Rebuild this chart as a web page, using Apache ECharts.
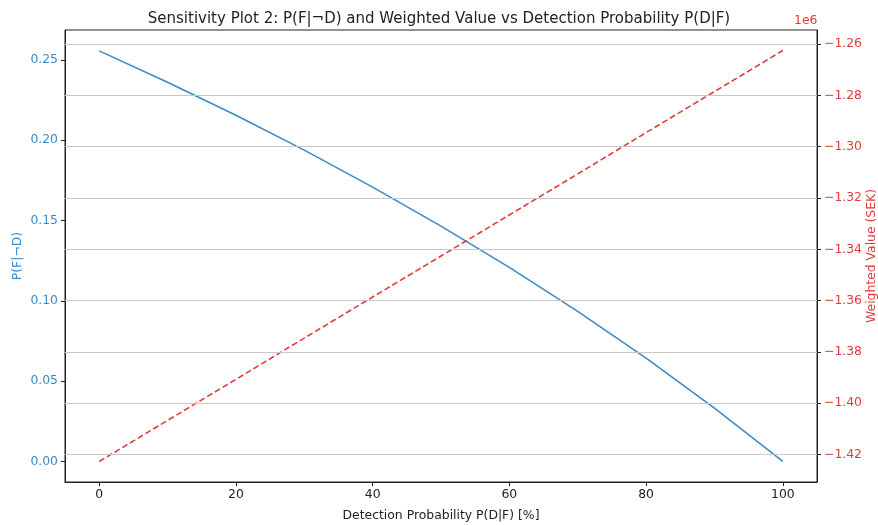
<!DOCTYPE html>
<html><head><meta charset="utf-8">
<script src="https://cdn.jsdelivr.net/npm/echarts@6/dist/echarts.min.js"></script>
<style>html,body{margin:0;padding:0;background:#fff}#c{width:878px;height:525px}</style>
</head><body><div id="c"></div>
<script>
const detection = [0,10,20,30,40,50,60,70,80,90,100];
const pFnotD = [0.2556,0.2361,0.2155,0.1938,0.1708,0.1465,0.1208,0.0934,0.0643,0.0332,0.0];
const weighted = [-1422700,-1406700,-1390700,-1374600,-1358600,-1342600,-1326600,-1310600,-1294500,-1278500,-1262500];
const xTicks = [0,20,40,60,80,100];
const leftTicks = [0,0.05,0.10,0.15,0.20,0.25];
const rightTicks = [-1420000,-1400000,-1380000,-1360000,-1340000,-1320000,-1300000,-1280000,-1260000];

const BLUE = '#3a8bc6', RED = '#e03c3c';
const FONT = 'DejaVu Sans';
const FS = 12.4;
const chart = echarts.init(document.getElementById('c'));
chart.setOption({
  animation:false,
  backgroundColor:'#fff',
  title:{text:'Sensitivity Plot 2: P(F|¬D) and Weighted Value vs Detection Probability P(D|F)',left:'center',top:7,
    textStyle:{fontFamily:FONT,fontSize:15,fontWeight:'normal',color:'#222'}},
  grid:{left:65,right:61,top:30,bottom:43,show:true,borderColor:'#222',borderWidth:1,backgroundColor:'transparent',
    containLabel:false,outerBoundsMode:'none'},
  graphic:[{type:'text',left:794,top:15,style:{text:'1e6',fill:RED,font:FS+'px DejaVu Sans'}}],
  xAxis:{type:'value',min:-5,max:105,
    name:'Detection Probability P(D|F) [%]',nameLocation:'middle',nameGap:28,nameMoveOverlap:false,
    nameTextStyle:{fontFamily:FONT,fontSize:FS,color:'#222'},
    axisLine:{show:true,onZero:false,lineStyle:{color:'#222',width:1}},splitLine:{show:false},
    axisTick:{show:true,length:4,lineStyle:{color:'#222'},customValues:xTicks},
    axisLabel:{customValues:xTicks,fontFamily:FONT,fontSize:FS,color:'#222',margin:7}},
  yAxis:[
    {type:'value',position:'left',min:-0.0128,max:0.2686,
     name:'P(F|¬D)',nameLocation:'middle',nameGap:41,nameRotate:90,nameMoveOverlap:false,
     nameTextStyle:{fontFamily:FONT,fontSize:FS,color:BLUE},
     axisLine:{show:true,onZero:false,lineStyle:{color:'#222',width:1}},splitLine:{show:false},
     axisTick:{show:true,length:4,lineStyle:{color:'#222'},customValues:leftTicks},
     axisLabel:{customValues:leftTicks,fontFamily:FONT,fontSize:FS,color:BLUE,margin:7,formatter:v=>v.toFixed(2)}},
    {type:'value',position:'right',min:-1430700,max:-1254500,
     name:'Weighted Value (SEK)',nameLocation:'middle',nameGap:49,nameRotate:90,nameMoveOverlap:false,
     nameTextStyle:{fontFamily:FONT,fontSize:FS,color:RED},
     axisLine:{show:true,onZero:false,lineStyle:{color:'#222',width:1}},splitLine:{show:false},
     axisTick:{show:true,length:4,lineStyle:{color:'#222'},customValues:rightTicks},
     axisLabel:{customValues:rightTicks,fontFamily:FONT,fontSize:FS,color:RED,margin:7,
       formatter:v=>'\u2212'+Math.abs(v/1e6).toFixed(2)}}
  ],
  series:[
    {type:'line',yAxisIndex:1,data:[],z:1,silent:true,
     markLine:{silent:true,symbol:'none',label:{show:false},
       lineStyle:{color:'#c8c8c8',width:1,type:'solid'},
       data:rightTicks.map(v=>({yAxis:v}))}},
    {type:'line',yAxisIndex:0,data:detection.map((d,i)=>[d,pFnotD[i]]),showSymbol:false,z:3,
     lineStyle:{color:BLUE,width:1.6}},
    {type:'line',yAxisIndex:1,data:detection.map((d,i)=>[d,weighted[i]]),showSymbol:false,z:3,
     lineStyle:{color:RED,width:1.6,type:[6,3]}}
  ]
});
</script></body></html>
